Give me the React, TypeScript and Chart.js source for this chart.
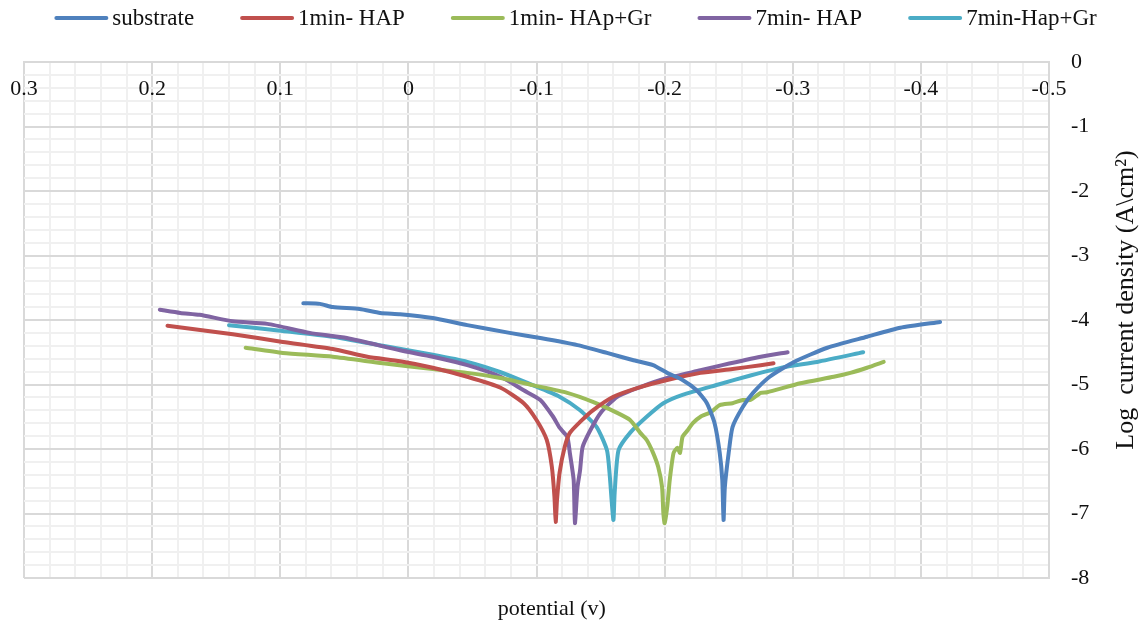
import React, { useEffect, useRef } from 'react';
import { Chart, registerables } from 'chart.js';

Chart.register(...registerables);

// ---------- data ----------
const seriesLabels = ['substrate', '1min- HAP', '1min- HAp+Gr', '7min- HAP', '7min-Hap+Gr'];
const seriesColors = ['#4f81bd', '#c0504d', '#9bbb59', '#8064a2', '#4bacc6'];

const substratePotential = [0.082, 0.069, 0.059, 0.038, 0.022, 0.0065, -0.019, -0.046, -0.079, -0.103, -0.132, -0.155, -0.175, -0.191, -0.202, -0.214, -0.225, -0.233, -0.239, -0.243, -0.245, -0.246, -0.247, -0.250, -0.253, -0.261, -0.269, -0.282, -0.301, -0.327, -0.358, -0.384, -0.415];
const substrateLogI = [-3.74, -3.75, -3.80, -3.83, -3.89, -3.91, -3.97, -4.08, -4.20, -4.28, -4.39, -4.51, -4.62, -4.70, -4.82, -4.93, -5.09, -5.29, -5.60, -6.06, -6.48, -7.10, -6.59, -6.06, -5.66, -5.35, -5.13, -4.88, -4.65, -4.43, -4.26, -4.12, -4.03];

const hap1Potential = [0.188, 0.137, 0.098, 0.059, 0.032, 0.0065, -0.019, -0.046, -0.072, -0.090, -0.100, -0.108, -0.112, -0.114, -0.115, -0.116, -0.118, -0.122, -0.126, -0.134, -0.144, -0.160, -0.181, -0.202, -0.228, -0.253, -0.275, -0.285];
const hap1LogI = [-4.09, -4.22, -4.34, -4.45, -4.57, -4.64, -4.74, -4.88, -5.05, -5.29, -5.55, -5.86, -6.28, -6.74, -7.13, -6.79, -6.37, -5.97, -5.75, -5.58, -5.40, -5.19, -5.04, -4.93, -4.82, -4.76, -4.70, -4.67];

const hapGr1Potential = [0.127, 0.098, 0.059, 0.020, -0.019, -0.046, -0.072, -0.097, -0.124, -0.144, -0.163, -0.173, -0.181, -0.186, -0.191, -0.195, -0.198, -0.199, -0.200, -0.202, -0.204, -0.207, -0.210, -0.212, -0.214, -0.218, -0.222, -0.228, -0.236, -0.243, -0.253, -0.261, -0.267, -0.275, -0.280, -0.306, -0.332, -0.345, -0.358, -0.371];
const hapGr1LogI = [-4.43, -4.51, -4.57, -4.67, -4.76, -4.82, -4.90, -5.01, -5.13, -5.27, -5.44, -5.55, -5.75, -5.86, -6.06, -6.28, -6.59, -6.99, -7.15, -6.90, -6.48, -6.06, -5.98, -6.06, -5.81, -5.71, -5.60, -5.50, -5.43, -5.32, -5.29, -5.24, -5.24, -5.13, -5.12, -4.98, -4.88, -4.82, -4.74, -4.65];

const hap7Potential = [0.194, 0.178, 0.163, 0.137, 0.110, 0.077, 0.048, 0.0065, -0.019, -0.046, -0.072, -0.090, -0.103, -0.113, -0.118, -0.124, -0.126, -0.129, -0.130, -0.132, -0.134, -0.136, -0.142, -0.150, -0.163, -0.181, -0.202, -0.228, -0.245, -0.275, -0.296];
const hap7LogI = [-3.84, -3.89, -3.92, -4.02, -4.06, -4.20, -4.28, -4.47, -4.57, -4.70, -4.88, -5.09, -5.24, -5.50, -5.67, -5.81, -6.06, -6.48, -7.15, -6.59, -6.33, -5.97, -5.71, -5.44, -5.19, -5.04, -4.90, -4.78, -4.70, -4.57, -4.50];

const hapGr7Potential = [0.140, 0.098, 0.059, 0.020, -0.019, -0.046, -0.072, -0.097, -0.118, -0.134, -0.147, -0.155, -0.157, -0.160, -0.161, -0.164, -0.173, -0.186, -0.199, -0.214, -0.242, -0.267, -0.293, -0.319, -0.355];
const hapGr7LogI = [-4.08, -4.17, -4.26, -4.40, -4.54, -4.65, -4.81, -5.01, -5.19, -5.40, -5.66, -6.02, -6.37, -7.10, -6.68, -6.02, -5.75, -5.50, -5.29, -5.16, -5.00, -4.86, -4.73, -4.65, -4.50];

const seriesPotentials = [substratePotential, hap1Potential, hapGr1Potential, hap7Potential, hapGr7Potential];
const seriesLogI = [substrateLogI, hap1LogI, hapGr1LogI, hap7LogI, hapGr7LogI];

const xTickValues = [0.3, 0.2, 0.1, 0, -0.1, -0.2, -0.3, -0.4, -0.5];
const xTickLabels = ['0.3', '0.2', '0.1', '0', '-0.1', '-0.2', '-0.3', '-0.4', '-0.5'];
const yTickValues = [0, -1, -2, -3, -4, -5, -6, -7, -8];
const yTickLabels = ['0', '-1', '-2', '-3', '-4', '-5', '-6', '-7', '-8'];

const xTitle = 'potential (v)';
const yTitle = 'Log  current density (A\\cm²)';

// ---------- styling ----------
const FONT_FAMILY = '"Liberation Serif", "Times New Roman", serif';
const MAJOR_GRID = '#d9d9d9';
const MINOR_GRID = '#f0f0f0';

function findIndex(values: number[], v: number) {
  for (let i = 0; i < values.length; i++) {
    if (Math.abs(values[i] - v) < 1e-6) return i;
  }
  return -1;
}

const textPlugin = {
  id: 'refText',
  afterDraw(chart: any) {
    const ctx = chart.ctx as CanvasRenderingContext2D;
    const area = chart.chartArea;
    ctx.save();
    // legend
    ctx.font = `23px ${FONT_FAMILY}`;
    ctx.textBaseline = 'middle';
    ctx.textAlign = 'left';
    const lineLen = 54;
    const gapText = 4;
    const gapItem = 46;
    const widths = seriesLabels.map((l) => ctx.measureText(l).width);
    let total = 0;
    widths.forEach((w, i) => {
      total += lineLen + gapText + w + (i > 0 ? gapItem : 0);
    });
    let x = chart.width / 2 + 5 - total / 2;
    const ly = 18;
    seriesLabels.forEach((label, i) => {
      ctx.strokeStyle = seriesColors[i];
      ctx.lineWidth = 4;
      ctx.lineCap = 'round';
      ctx.beginPath();
      ctx.moveTo(x + 2, ly);
      ctx.lineTo(x + lineLen - 2, ly);
      ctx.stroke();
      ctx.fillStyle = '#111';
      ctx.fillText(label, x + lineLen + gapText, ly + 1);
      x += lineLen + gapText + widths[i] + gapItem;
    });
    // x title
    ctx.font = `22px ${FONT_FAMILY}`;
    ctx.textAlign = 'center';
    ctx.fillStyle = '#111';
    ctx.fillText(xTitle, area.left + (area.right - area.left) * 0.515, 609);
    // y title
    ctx.translate(1126, 300);
    ctx.rotate(-Math.PI / 2);
    ctx.font = `26px ${FONT_FAMILY}`;
    ctx.fillText(yTitle, 0, 0);
    ctx.restore();
  },
};

export default function App() {
  const canvasRef = useRef<HTMLCanvasElement | null>(null);

  useEffect(() => {
    if (!canvasRef.current) return;
    const datasets = seriesLabels.map((label, i) => ({
      label,
      data: seriesPotentials[i].map((p, j) => ({ x: p, y: seriesLogI[i][j] })),
      borderColor: seriesColors[i],
      backgroundColor: seriesColors[i],
      borderWidth: 4,
      pointRadius: 0,
      tension: 0.2,
      borderCapStyle: 'round' as const,
      borderJoinStyle: 'round' as const,
      fill: false,
    }));

    const chart = new Chart(canvasRef.current, {
      type: 'line',
      data: { datasets },
      plugins: [textPlugin],
      options: {
        animation: false,
        responsive: false,
        devicePixelRatio: 1,
        layout: { padding: { top: 62, left: 24, right: 0, bottom: 50 } },
        plugins: {
          legend: { display: false },
          tooltip: { enabled: false },
        },
        scales: {
          x: {
            type: 'linear',
            position: 'top',
            reverse: true,
            min: -0.5,
            max: 0.3,
            afterFit: (s: any) => {
              s.height = 0;
              s.paddingLeft = 0;
              s.paddingRight = 0;
            },
            border: { display: true, color: MAJOR_GRID, width: 2 },
            grid: {
              drawTicks: false,
              lineWidth: 2,
              color: (c: any) => (c.tick && findIndex(xTickValues, c.tick.value) >= 0 ? MAJOR_GRID : MINOR_GRID),
            },
            ticks: {
              stepSize: 0.02,
              autoSkip: false,
              maxRotation: 0,
              minRotation: 0,
              mirror: true,
              padding: 14,
              color: '#111',
              font: { family: FONT_FAMILY, size: 22 },
              callback: (v: any) => {
                const idx = findIndex(xTickValues, Number(v));
                return idx >= 0 ? xTickLabels[idx] : '';
              },
            },
          },
          y: {
            type: 'linear',
            position: 'right',
            min: -8,
            max: 0,
            afterFit: (s: any) => {
              s.width = 92;
              s.paddingTop = 0;
              s.paddingBottom = 0;
            },
            border: { display: true, color: MAJOR_GRID, width: 2 },
            grid: {
              drawTicks: false,
              lineWidth: 2,
              color: (c: any) => (c.tick && findIndex(yTickValues, c.tick.value) >= 0 ? MAJOR_GRID : MINOR_GRID),
            },
            ticks: {
              stepSize: 0.2,
              autoSkip: false,
              padding: 22,
              color: '#111',
              font: { family: FONT_FAMILY, size: 22 },
              callback: (v: any) => {
                const idx = findIndex(yTickValues, Number(v));
                return idx >= 0 ? yTickLabels[idx] : '';
              },
            },
          },
        },
      },
    });
    return () => chart.destroy();
  }, []);

  return (
    <div style={{ position: 'fixed', left: 0, top: 0, width: 1141, height: 628, background: '#fff' }}>
      <canvas ref={canvasRef} width={1141} height={628} style={{ display: 'block' }} />
    </div>
  );
}
